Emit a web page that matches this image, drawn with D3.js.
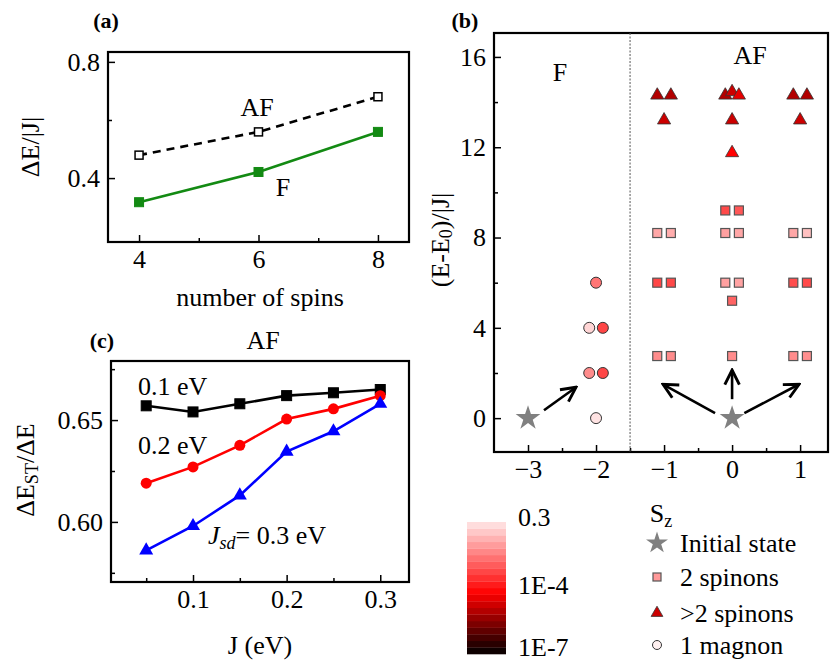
<!DOCTYPE html>
<html><head><meta charset="utf-8">
<script src="https://d3js.org/d3.v7.min.js"></script>
<style>body{margin:0;background:#fff}svg text{font-family:"Liberation Serif","Times New Roman",Times,"DejaVu Serif",serif !important;fill:#000}</style>
</head><body><svg id="c" width="831" height="665"></svg>
<script>
// ---- data ----
const spins = [4, 6, 8];
const dE_AF = [0.479, 0.559, 0.680];
const dE_F = [0.317, 0.421, 0.559];

const Jvals = [0.05, 0.10, 0.15, 0.20, 0.25, 0.30];
const ratio_01 = [0.657, 0.654, 0.658, 0.662, 0.6634, 0.665];
const ratio_02 = [0.619, 0.627, 0.6376, 0.6505, 0.6555, 0.662];
const ratio_03 = [0.586, 0.598, 0.613, 0.6345, 0.6445, 0.658];

// panel b: [Sz, energy, log10 weight]
const magnons = [[-2,6,-2.25],[-2.1,4,-0.8],[-1.9,4,-2.95],[-2.1,2,-1.9],[-1.9,2,-2.95],[-2,0,-0.6]];
const spinons2 = [
 [-1.1,2.75,-1.9],[-0.9,2.75,-1.9],[0,2.75,-1.9],[0.9,2.75,-1.9],[1.1,2.75,-1.85],
 [0,5.2,-2.5],
 [-1.1,6,-2.95],[-0.9,6,-2.9],[-0.1,6,-1.6],[0.1,6,-1.55],[0.9,6,-2.85],[1.1,6,-2.9],
 [-1.1,8.2,-1.5],[-0.9,8.2,-1.4],[-0.1,8.2,-1.6],[0.1,8.2,-1.5],[0.9,8.2,-1.5],[1.1,8.2,-1.1],
 [-0.1,9.2,-2.9],[0.1,9.2,-2.7]];
const spinonsMore = [
 [-1.1,14.3,-4.9],[-0.9,14.3,-4.9],[-0.1,14.3,-4.9],[0,14.45,-4.6],[0.1,14.3,-4.3],[0.9,14.3,-4.9],[1.1,14.3,-4.9],
 [-1,13.2,-4.6],[0,13.2,-4.6],[1,13.2,-4.6],[0,11.75,-4.0]];
const initial = [[-3,0],[0,0]];
const arrows = [[-2.765,0.35,-2.294,1.37],[-0.25,0.22,-1.015,1.5],[0,0.84,0,2.13],[0.18,0.22,0.985,1.5]];
const cbarLabels = ["0.3","1E-4","1E-7"];
const cbarLogs = [-0.52, -4, -7];
const legendItems = ["Initial state","2 spinons",">2 spinons","1 magnon"];

// ---- drawing ----
const svg = d3.select("#c");
const FF = '"Liberation Serif","Times New Roman",Times,"DejaVu Serif",serif';
svg.attr("font-family",FF);
const FS = 26;
svg.append("defs").append("marker").attr("id","ah").attr("viewBox","0 0 10 10").attr("refX",9).attr("refY",5)
  .attr("markerWidth",7).attr("markerHeight",7).attr("orient","auto")
  .append("path").attr("d","M1,1L9,5L1,9").attr("fill","none").attr("stroke","#000").attr("stroke-width",1.6);

const color = d3.scaleLinear().domain([-7,-4,-0.52]).range(["#000","#ff0000","#ffe8e8"]);

function frame(x, y, opts){
  const [x0,x1] = x.range(), [y1,y0] = y.range();
  const g = svg.append("g");
  g.append("g").attr("transform",`translate(0,${y1})`)
    .call(d3.axisBottom(x).tickValues(opts.xt).tickFormat(opts.xf).tickSize(-7).tickPadding(8));
  g.append("g").attr("transform",`translate(0,${y1})`).call(d3.axisBottom(x).tickValues(opts.xm).tickFormat("").tickSize(-4));
  g.append("g").attr("transform",`translate(${x0},0)`)
    .call(d3.axisLeft(y).tickValues(opts.yt).tickFormat(opts.yf).tickSize(-7).tickPadding(8));
  g.append("g").attr("transform",`translate(${x0},0)`).call(d3.axisLeft(y).tickValues(opts.ym).tickFormat("").tickSize(-4));
  g.selectAll("g").attr("font-family",FF).attr("font-size",FS);
  g.selectAll(".domain").remove();
  g.selectAll(".tick line").attr("stroke","#000").attr("stroke-width",1.5);
  g.selectAll("text").attr("fill","#000");
  g.append("rect").attr("x",x0).attr("y",y0).attr("width",x1-x0).attr("height",y1-y0)
    .attr("fill","none").attr("stroke","#000").attr("stroke-width",2.2);
  return g;
}
function txt(x,y,s,o={}){
  const t = svg.append("text").attr("x",x).attr("y",y).attr("font-size",(o.fs||FS)+"px")
    .attr("text-anchor",o.anchor||"middle").attr("dominant-baseline","central");
  if(o.bold) t.attr("font-weight","bold");
  if(o.rot!=null) t.attr("transform",`rotate(${o.rot},${x},${y})`);
  if(typeof s === "string") t.text(s); else s(t);
  return t;
}
const sq = (g,x,y,s,fill,stroke,sw)=>g.append("rect").attr("x",x-s/2).attr("y",y-s/2).attr("width",s).attr("height",s).attr("fill",fill).attr("stroke",stroke).attr("stroke-width",sw);

// panel a
{
  const x = d3.scaleLinear().domain([3.48,8.52]).range([108,409]);
  const y = d3.scaleLinear().domain([0.18,0.834]).range([242,52]);
  frame(x,y,{xt:[4,6,8],xf:d3.format("d"),xm:[5,7],yt:[0.4,0.8],yf:d3.format(".1f"),ym:[0.6]});
  const line = d3.line().x((d,i)=>x(spins[i])).y(d=>y(d));
  svg.append("path").attr("d",line(dE_AF)).attr("fill","none").attr("stroke","#000").attr("stroke-width",2.6).attr("stroke-dasharray","8,6");
  svg.append("path").attr("d",line(dE_F)).attr("fill","none").attr("stroke","#138a13").attr("stroke-width",2.6);
  dE_AF.forEach((d,i)=>sq(svg,x(spins[i]),y(d),8,"#fff","#000",1.5));
  dE_F.forEach((d,i)=>sq(svg,x(spins[i]),y(d),9,"#138a13","#138a13",1));
  txt(257,107,"AF"); txt(283,187,"F");
  txt(106,20,"(a)",{bold:true,fs:22});
  txt(30,147,"ΔE/|J|",{rot:-90});
  txt(260,297,"number of spins");
}
// panel c
{
  const x = d3.scaleLinear().domain([0.0124,0.3307]).range([111,409]);
  const y = d3.scaleLinear().domain([0.5705,0.679]).range([582,361]);
  frame(x,y,{xt:[0.1,0.2,0.3],xf:d3.format(".1f"),xm:[0.05,0.15,0.25],yt:[0.60,0.65],yf:d3.format(".2f"),ym:[0.575,0.625,0.675]});
  const line = d3.line().x((d,i)=>x(Jvals[i])).y(d=>y(d));
  [[ratio_01,"#000"],[ratio_02,"#ff0000"],[ratio_03,"#0000ff"]].forEach(([s,c])=>
    svg.append("path").attr("d",line(s)).attr("fill","none").attr("stroke",c).attr("stroke-width",2.6));
  ratio_01.forEach((d,i)=>sq(svg,x(Jvals[i]),y(d),10,"#000","#000",1));
  ratio_02.forEach((d,i)=>svg.append("circle").attr("cx",x(Jvals[i])).attr("cy",y(d)).attr("r",5.5).attr("fill","#ff0000"));
  ratio_03.forEach((d,i)=>svg.append("path").attr("transform",`translate(${x(Jvals[i])},${y(d)})`).attr("d",d3.symbol(d3.symbolTriangle,85)()).attr("fill","#0000ff"));
  txt(102,340,"(c)",{bold:true,fs:22}); txt(263,340,"AF");
  txt(138,386,"0.1 eV",{anchor:"start"}); txt(138,445,"0.2 eV",{anchor:"start"});
  txt(208,535,t=>{t.attr("text-anchor","start");
    t.append("tspan").attr("font-style","italic").text("J");
    t.append("tspan").attr("font-style","italic").attr("font-size","18px").attr("dy",8).text("sd");
    t.append("tspan").attr("dy",-8).text("= 0.3 eV");});
  txt(25,470,t=>{t.append("tspan").text("ΔE");t.append("tspan").attr("font-size","18px").attr("dy",7).text("ST");t.append("tspan").attr("dy",-7).text("/ΔE");},{rot:-90});
  txt(260,645,"J (eV)");
}
// panel b
{
  const x = d3.scaleLinear().domain([-3.5,1.41]).range([494,828]);
  const y = d3.scaleLinear().domain([-1.5,17.06]).range([452,33]);
  frame(x,y,{xt:[-3,-2,-1,0,1],xf:d3.format("d"),xm:[-2.5,-1.5,-0.5,0.5],yt:[0,4,8,12,16],yf:d3.format("d"),ym:[2,6,10,14]});
  svg.append("line").attr("x1",x(-1.5)).attr("x2",x(-1.5)).attr("y1",y.range()[1]).attr("y2",y.range()[0])
    .attr("stroke","#555").attr("stroke-width",1).attr("stroke-dasharray","2,1.5");
  magnons.forEach(d=>svg.append("circle").attr("cx",x(d[0])).attr("cy",y(d[1])).attr("r",5.5).attr("fill",color(d[2])).attr("stroke","#333").attr("stroke-width",1));
  spinons2.forEach(d=>sq(svg,x(d[0]),y(d[1]),9,color(d[2]),"#555",1.2));
  spinonsMore.forEach(d=>svg.append("path").attr("transform",`translate(${x(d[0])},${y(d[1])})`).attr("d",d3.symbol(d3.symbolTriangle,75)()).attr("fill",color(d[2])).attr("stroke","#333").attr("stroke-width",0.8));
  initial.forEach(d=>svg.append("path").attr("transform",`translate(${x(d[0])},${y(d[1])})`).attr("d",d3.symbol(d3.symbolStar,190)()).attr("fill","#808080"));
  arrows.forEach(a=>svg.append("line").attr("x1",x(a[0])).attr("y1",y(a[1])).attr("x2",x(a[2])).attr("y2",y(a[3]))
    .attr("stroke","#000").attr("stroke-width",2.6).attr("marker-end","url(#ah)"));
  txt(560,72,"F"); txt(750,55,"AF");
  txt(465,20,"(b)",{bold:true,fs:22});
  txt(440,240,t=>{t.append("tspan").text("(E-E");t.append("tspan").attr("font-size","18px").attr("dy",6).text("0");t.append("tspan").attr("dy",-6).text(")/|J|");},{rot:-90});
  txt(661,513,t=>{t.append("tspan").text("S");t.append("tspan").attr("font-size","18px").attr("dy",8).text("z");});
}
// colorbar
{
  const cy = d3.scaleLinear().domain([-7,-0.52]).range([654,522]);
  const n = 20, bands = d3.range(n).map(i=>-7+(i+0.5)*(6.48/n));
  bands.forEach(v=>svg.append("rect").attr("x",467).attr("width",39).attr("y",cy(v+3.24/n)).attr("height",132/n+0.3).attr("fill",color(v)));
  cbarLabels.forEach((l,i)=>txt(518,[517,585,647][i],l,{anchor:"start"}));
}
// legend
{
  const ys=[543,577,613,645], lx=657;
  svg.append("path").attr("transform",`translate(${lx},${ys[0]})`).attr("d",d3.symbol(d3.symbolStar,150)()).attr("fill","#808080");
  sq(svg,lx,ys[1],8,"#ff9999","#555",1.2);
  svg.append("path").attr("transform",`translate(${lx},${ys[2]})`).attr("d",d3.symbol(d3.symbolTriangle,60)()).attr("fill","#cc0000").attr("stroke","#333").attr("stroke-width",0.8);
  svg.append("circle").attr("cx",lx).attr("cy",ys[3]).attr("r",4.5).attr("fill","#fff0f0").attr("stroke","#333");
  legendItems.forEach((l,i)=>txt(680,ys[i],l,{anchor:"start"}));
}
</script></body></html>
